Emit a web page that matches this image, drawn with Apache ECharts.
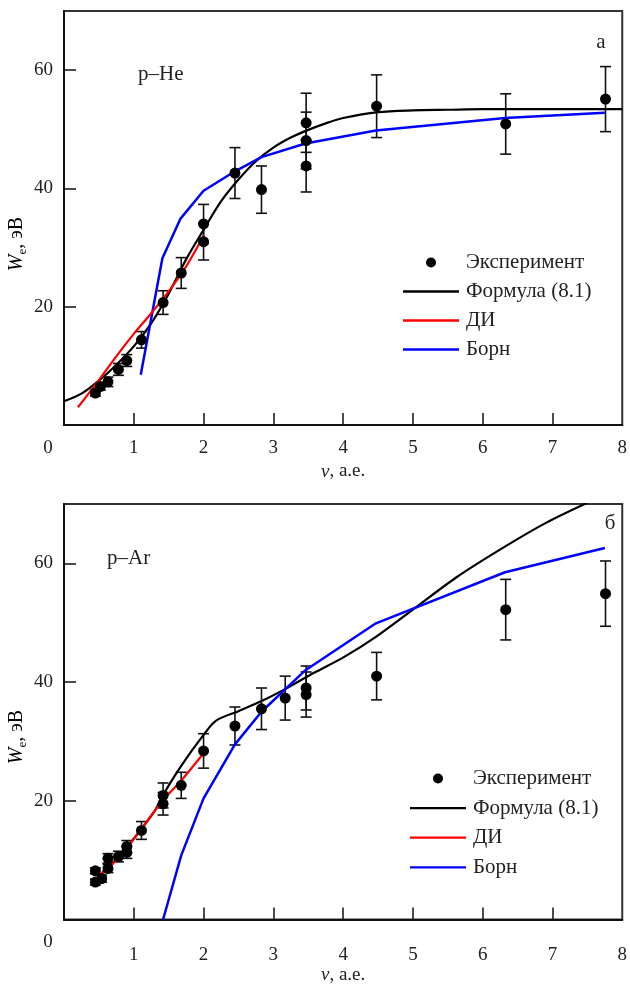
<!DOCTYPE html>
<html>
<head>
<meta charset="utf-8">
<script src="https://cdn.jsdelivr.net/npm/echarts@6/dist/echarts.min.js"></script>
<style>
  html, body { margin: 0; padding: 0; background: #fff; }
  #chart { width: 630px; height: 990px; }
</style>
</head>
<body>
<div id="chart"></div>
<script>
// Axis ticks and labels
const xTickValues = [1, 2, 3, 4, 5, 6, 7];
const xLabelValues = [1, 2, 3, 4, 5, 6, 7, 8];
const yTickValues = [20, 40, 60];

// ---- p–He ----
const heExpV   = [0.45, 0.52, 0.63, 0.78, 0.90, 1.11, 1.42, 1.68, 2.00, 2.00, 2.45, 2.83, 3.47, 3.47, 3.47, 4.48, 6.33, 7.76];
const heExpW   = [5.4, 6.5, 7.3, 9.4, 10.9, 14.4, 20.7, 25.7, 34.0, 31.0, 42.6, 39.8, 51.1, 48.1, 43.8, 53.9, 50.9, 55.1];
const heExpErr = [0.5, 0.6, 0.8, 1.0, 1.0, 1.4, 2.0, 2.6, 3.3, 3.1, 4.3, 4.0, 5.0, 4.8, 4.4, 5.3, 5.1, 5.5];

const heFormulaV = [0, 0.25, 0.5, 0.75, 1.0, 1.25, 1.5, 1.75, 2.0, 2.25, 2.5, 2.75, 3.0, 3.25, 3.5, 3.75, 4.0, 4.5, 5.0, 5.5, 6.0, 7.0, 8.0];
const heFormulaW = [4.0, 5.3, 7.5, 10.2, 13.3, 17.2, 22.2, 28.0, 33.0, 37.8, 41.5, 44.6, 46.9, 48.6, 49.9, 51.0, 51.9, 52.9, 53.2, 53.3, 53.4, 53.4, 53.4];

const heDiV = [0.2, 0.5, 0.75, 1.0, 1.25, 1.5, 1.75, 2.0];
const heDiW = [3.0, 7.6, 11.6, 15.4, 18.9, 22.6, 26.8, 32.0];

const heBornV = [1.10, 1.41, 1.67, 2.00, 2.45, 2.83, 3.46, 4.47, 6.32, 7.75];
const heBornW = [8.5, 28.2, 34.9, 39.6, 42.9, 45.3, 47.6, 49.8, 51.9, 52.8];

// ---- p–Ar ----
const arExpV   = [0.45, 0.45, 0.54, 0.63, 0.63, 0.78, 0.90, 0.90, 1.11, 1.42, 1.42, 1.68, 2.00, 2.45, 2.83, 3.17, 3.47, 3.47, 4.48, 6.33, 7.76];
const arExpW   = [8.2, 6.3, 6.9, 8.6, 10.3, 10.6, 12.3, 11.3, 15.0, 20.9, 19.5, 22.6, 28.4, 32.6, 35.5, 37.3, 39.0, 37.9, 41.0, 52.2, 54.9];
const arExpErr = [0.5, 0.5, 0.6, 0.7, 0.8, 0.9, 1.0, 1.0, 1.5, 2.1, 1.9, 2.2, 2.9, 3.2, 3.5, 3.7, 3.7, 3.8, 4.0, 5.1, 5.5];

const arFormulaV = [0.55, 0.75, 1.0, 1.3, 1.42, 1.68, 2.0, 2.18, 2.5, 2.9, 3.18, 3.59, 4.01, 4.48, 5.01, 5.63, 6.33, 6.92, 7.5];
const arFormulaW = [8.0, 10.2, 13.6, 18.3, 21.0, 25.9, 31.1, 33.5, 35.1, 37.2, 38.9, 41.6, 44.2, 47.7, 52.3, 57.7, 62.9, 66.9, 70.2];

const arDiV = [0.52, 0.7, 0.9, 1.11, 1.42, 1.68, 2.0];
const arDiW = [7.6, 9.4, 12.0, 15.3, 20.1, 23.4, 28.0];

const arBornV = [1.42, 1.68, 2.00, 2.45, 2.83, 3.46, 4.47, 6.32, 7.75];
const arBornW = [0, 10.8, 20.4, 29.5, 35.0, 42.0, 49.9, 58.5, 62.6];

const NAMES = ['Эксперимент', 'Формула (8.1)', 'ДИ', 'Борн'];
const FONT = '"Liberation Serif", "Times New Roman", serif';
const INK = '#111';
const LINE_ICON = 'path://M0,0H56V2.3H0Z';

const pairs = (xs, ys) => xs.map((x, i) => [x, ys[i]]);
const triples = (xs, ys, es) => xs.map((x, i) => [x, ys[i], es[i]]);

// Vertical error bar with caps, positioned through the axis scales
function errorBar(params, api) {
  const x = api.value(0), y = api.value(1), e = api.value(2);
  const hi = api.coord([x, y + e]);
  const lo = api.coord([x, y - e]);
  const half = 5.5;
  const style = { stroke: INK, lineWidth: 1.6 };
  return {
    type: 'group',
    children: [
      { type: 'line', shape: { x1: hi[0], y1: hi[1], x2: lo[0], y2: lo[1] }, style },
      { type: 'line', shape: { x1: hi[0] - half, y1: hi[1], x2: hi[0] + half, y2: hi[1] }, style },
      { type: 'line', shape: { x1: lo[0] - half, y1: lo[1], x2: lo[0] + half, y2: lo[1] }, style }
    ]
  };
}

function xAxisFor(gi, labelMargin, nameGap) {
  return {
    gridIndex: gi, type: 'value', min: 0, max: 8, interval: 1,
    axisLine: { onZero: false, lineStyle: { color: INK, width: 2 } },
    axisTick: { inside: true, length: 12, customValues: xTickValues, lineStyle: { color: INK, width: 1.5 } },
    axisLabel: { customValues: xLabelValues, margin: labelMargin, fontFamily: FONT, fontSize: 19, color: '#222' },
    splitLine: { show: false },
    name: '{i|v}, а.е.',
    nameLocation: 'middle',
    nameGap: nameGap,
    nameTextStyle: {
      fontFamily: FONT, fontSize: 19, color: '#222',
      rich: { i: { fontFamily: FONT, fontStyle: 'italic', fontSize: 19, color: '#222' } }
    }
  };
}

function yAxisFor(gi) {
  return {
    gridIndex: gi, type: 'value', min: 0, max: 70, interval: 10,
    axisLine: { onZero: false, lineStyle: { color: INK, width: 2 } },
    axisTick: { inside: true, length: 12, customValues: yTickValues, lineStyle: { color: INK, width: 1.5 } },
    axisLabel: { customValues: yTickValues, margin: 11, fontFamily: FONT, fontSize: 19, color: '#222' },
    splitLine: { show: false }
  };
}

function panelSeries(gi, expV, expW, expErr, fV, fW, dV, dW, bV, bW) {
  return [
    {
      type: 'custom', xAxisIndex: gi, yAxisIndex: gi,
      renderItem: errorBar, data: triples(expV, expW, expErr),
      encode: { x: 0, y: 1 }, z: 3, silent: true
    },
    {
      name: NAMES[1], type: 'line', xAxisIndex: gi, yAxisIndex: gi,
      data: pairs(fV, fW), symbol: 'none', smooth: 0.3, clip: true,
      lineStyle: { color: '#000', width: 2.2 }, itemStyle: { color: '#000' }, z: 4
    },
    {
      name: NAMES[2], type: 'line', xAxisIndex: gi, yAxisIndex: gi,
      data: pairs(dV, dW), symbol: 'none', smooth: 0.3, clip: true,
      lineStyle: { color: '#ff0000', width: 2.2 }, itemStyle: { color: '#ff0000' }, z: 5
    },
    {
      name: NAMES[3], type: 'line', xAxisIndex: gi, yAxisIndex: gi,
      data: pairs(bV, bW), symbol: 'none', clip: true,
      lineStyle: { color: '#0000ff', width: 2.5 }, itemStyle: { color: '#0000ff' }, z: 4
    },
    {
      name: NAMES[0], type: 'scatter', xAxisIndex: gi, yAxisIndex: gi,
      data: pairs(expV, expW), symbol: 'circle', symbolSize: 11,
      itemStyle: { color: '#000', opacity: 1 }, z: 6
    }
  ];
}

function legendAt(left, top, gap) {
  return {
    orient: 'vertical', left: left, top: top, padding: 0,
    itemWidth: 56, itemHeight: 10, itemGap: gap,
    selectedMode: false, symbolKeepAspect: true,
    textStyle: { fontFamily: FONT, fontSize: 21, color: '#222', lineHeight: 21, padding: [0, 0, 0, 2] },
    data: [
      { name: NAMES[0], icon: 'circle', itemStyle: { color: '#000', opacity: 1 } },
      { name: NAMES[1], icon: LINE_ICON, itemStyle: { color: '#000' } },
      { name: NAMES[2], icon: LINE_ICON, itemStyle: { color: '#ff0000' } },
      { name: NAMES[3], icon: LINE_ICON, itemStyle: { color: '#0000ff' } }
    ]
  };
}

function yTitle(cx, cy) {
  return {
    type: 'text', x: cx, y: cy, rotation: Math.PI / 2,
    style: {
      text: '{w|W}{s|e}{t|, эВ}',
      align: 'center', verticalAlign: 'middle',
      rich: {
        w: { fontFamily: FONT, fontStyle: 'italic', fontSize: 20, color: '#222', lineHeight: 24 },
        s: { fontFamily: FONT, fontSize: 13, color: '#222', lineHeight: 24, verticalAlign: 'bottom', padding: [10, 0, 0, 0] },
        t: { fontFamily: FONT, fontSize: 20, color: '#222', lineHeight: 24 }
      }
    }
  };
}

function plainText(x, y, text, align) {
  return {
    type: 'text', x: x, y: y,
    style: { text: text, fontFamily: FONT, fontSize: 21, fill: '#222', align: align || 'left', verticalAlign: 'middle' }
  };
}

const chart = echarts.init(document.getElementById('chart'), null, { renderer: 'canvas' });

chart.setOption({
  backgroundColor: '#fff',
  animation: false,
  grid: [
    { left: 64, top: 11, width: 560, height: 414, show: true, borderColor: '#333', borderWidth: 2, backgroundColor: 'transparent' },
    { left: 64, top: 504, width: 560, height: 415.5, show: true, borderColor: '#333', borderWidth: 2, backgroundColor: 'transparent' }
  ],
  xAxis: [xAxisFor(0, 14, 37), xAxisFor(1, 26, 39)],
  yAxis: [yAxisFor(0), yAxisFor(1)],
  legend: [legendAt(403, 252, 8), legendAt(410, 768, 8.6)],
  series: [
    ...panelSeries(0, heExpV, heExpW, heExpErr, heFormulaV, heFormulaW, heDiV, heDiW, heBornV, heBornW),
    ...panelSeries(1, arExpV, arExpW, arExpErr, arFormulaV, arFormulaW, arDiV, arDiW, arBornV, arBornW)
  ],
  graphic: [
    yTitle(17, 244),
    yTitle(17, 737),
    { type: 'text', x: 48, y: 448, style: { text: '0', fontFamily: FONT, fontSize: 19, fill: '#222', align: 'center', verticalAlign: 'middle' } },
    { type: 'text', x: 48, y: 942, style: { text: '0', fontFamily: FONT, fontSize: 19, fill: '#222', align: 'center', verticalAlign: 'middle' } },
    plainText(138, 74, 'p–He'),
    plainText(601, 42, 'а', 'center'),
    plainText(107, 558, 'p–Ar'),
    plainText(610, 523, 'б', 'center')
  ]
});
</script>
</body>
</html>
